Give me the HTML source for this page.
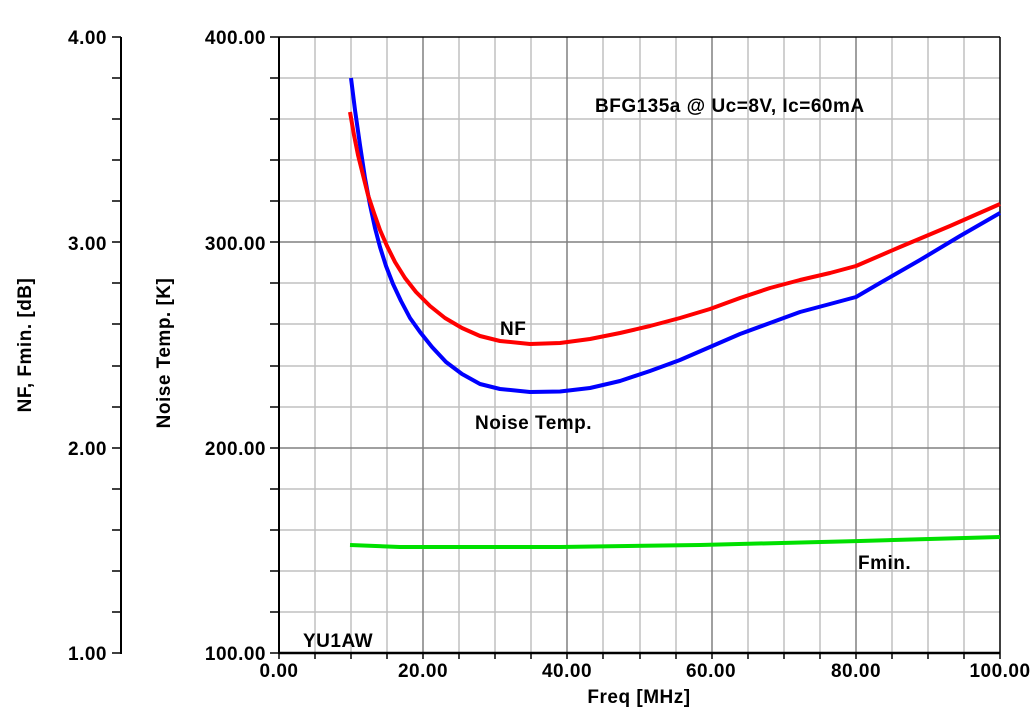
<!DOCTYPE html>
<html><head><style>
body{margin:0;background:#fff;}
text{font-family:"Liberation Sans",Arial,sans-serif;font-weight:bold;letter-spacing:0.5px;}
</style></head><body>
<svg width="1035" height="712" xmlns="http://www.w3.org/2000/svg">
<g stroke-width="1.5" stroke="#c0c0c0">
<line x1="315" y1="37" x2="315" y2="653"/><line x1="351" y1="37" x2="351" y2="653"/><line x1="387" y1="37" x2="387" y2="653"/>
<line x1="459" y1="37" x2="459" y2="653"/><line x1="495" y1="37" x2="495" y2="653"/><line x1="531" y1="37" x2="531" y2="653"/>
<line x1="603" y1="37" x2="603" y2="653"/><line x1="640" y1="37" x2="640" y2="653"/><line x1="676" y1="37" x2="676" y2="653"/>
<line x1="748" y1="37" x2="748" y2="653"/><line x1="784" y1="37" x2="784" y2="653"/><line x1="820" y1="37" x2="820" y2="653"/>
<line x1="892" y1="37" x2="892" y2="653"/><line x1="928" y1="37" x2="928" y2="653"/><line x1="964" y1="37" x2="964" y2="653"/>
<line x1="279" y1="78" x2="1000" y2="78"/><line x1="279" y1="119" x2="1000" y2="119"/><line x1="279" y1="160" x2="1000" y2="160"/><line x1="279" y1="201" x2="1000" y2="201"/>
<line x1="279" y1="283" x2="1000" y2="283"/><line x1="279" y1="324" x2="1000" y2="324"/><line x1="279" y1="366" x2="1000" y2="366"/><line x1="279" y1="407" x2="1000" y2="407"/>
<line x1="279" y1="489" x2="1000" y2="489"/><line x1="279" y1="530" x2="1000" y2="530"/><line x1="279" y1="571" x2="1000" y2="571"/><line x1="279" y1="612" x2="1000" y2="612"/>
</g>
<g stroke-width="1.5" stroke="#808080">
<line x1="423" y1="37" x2="423" y2="653"/><line x1="567" y1="37" x2="567" y2="653"/><line x1="712" y1="37" x2="712" y2="653"/><line x1="856" y1="37" x2="856" y2="653"/>
<line x1="279" y1="242" x2="1000" y2="242"/><line x1="279" y1="448" x2="1000" y2="448"/>
</g>
<g stroke="#000" stroke-width="1.5">
<path d="M270 37h9M270 78h9M270 119h9M270 160h9M270 201h9M270 242h9M270 283h9M270 324h9M270 366h9M270 407h9M270 448h9M270 489h9M270 530h9M270 571h9M270 612h9M270 653h9"/>
<path d="M112 37h9M112 78h9M112 119h9M112 160h9M112 201h9M112 242h9M112 283h9M112 324h9M112 366h9M112 407h9M112 448h9M112 489h9M112 530h9M112 571h9M112 612h9M112 653h9"/>
<path d="M315 653v6M351 653v6M387 653v6M423 653v6M459 653v6M495 653v6M531 653v6M567 653v6M603 653v6M640 653v6M676 653v6M712 653v6M748 653v6M784 653v6M820 653v6M856 653v6M892 653v6M928 653v6M964 653v6M1000 653v6M279 653v6"/>
</g>
<line x1="279" y1="37" x2="1000" y2="37" stroke="#000" stroke-width="1.5"/>
<line x1="1000" y1="37" x2="1000" y2="653" stroke="#000" stroke-width="1.5"/>
<line x1="279" y1="37" x2="279" y2="654" stroke="#000" stroke-width="2"/>
<line x1="279" y1="653" x2="1000" y2="653" stroke="#000" stroke-width="2.5"/>
<line x1="121" y1="37" x2="121" y2="654" stroke="#000" stroke-width="2"/>
<g font-size="19" text-anchor="end">
<text x="107" y="44">4.00</text><text x="107" y="250">3.00</text><text x="107" y="455">2.00</text><text x="107" y="660">1.00</text>
<text x="266" y="44">400.00</text><text x="266" y="250">300.00</text><text x="266" y="455">200.00</text><text x="266" y="660">100.00</text>
</g>
<g font-size="19" text-anchor="middle">
<text x="279" y="677">0.00</text><text x="423" y="677">20.00</text><text x="567" y="677">40.00</text><text x="711" y="677">60.00</text><text x="856" y="677">80.00</text><text x="1000" y="677">100.00</text>
<text x="639" y="703">Freq [MHz]</text>
</g>
<text font-size="19" text-anchor="middle" transform="translate(31,345) rotate(-90)">NF, Fmin. [dB]</text>
<text font-size="19" text-anchor="middle" transform="translate(170,353) rotate(-90)">Noise Temp. [K]</text>
<g fill="none" stroke-width="4" stroke-linejoin="round">
<polyline stroke="#00e000" points="350,545 400,547 560,547 700,545 860,541 1000,537"/>
<polyline stroke="#0000ff" points="351,78 355,110 360,145 365,178 370,205 375,228 380,247 386,266 393,284 401,301 410,318 420,332 432,347 446,362 462,374 480,384 500,389 530,392 560,391.5 590,388 620,381 650,371 680,360 710,347 740,334 770,323 800,312 830,304 856,297 880,283 920,260 960,236 1000,213"/>
<polyline stroke="#ff0000" points="350,112 354,135 358,155 363,175 368,195 374,213 380,230 387,246 395,262 405,278 416,292 430,306 445,318 462,328 480,336 500,341 530,344 560,343 590,339 620,333 650,326 680,318 710,309 740,298 770,288 800,280 830,273 856,266 900,247 950,226 1000,204"/>
</g>
<g font-size="19">
<text x="595" y="112">BFG135a @ Uc=8V, Ic=60mA</text>
<text x="500" y="335">NF</text>
<text x="475" y="429">Noise Temp.</text>
<text x="858" y="569">Fmin.</text>
<text x="303" y="647">YU1AW</text>
</g>
</svg>
</body></html>
